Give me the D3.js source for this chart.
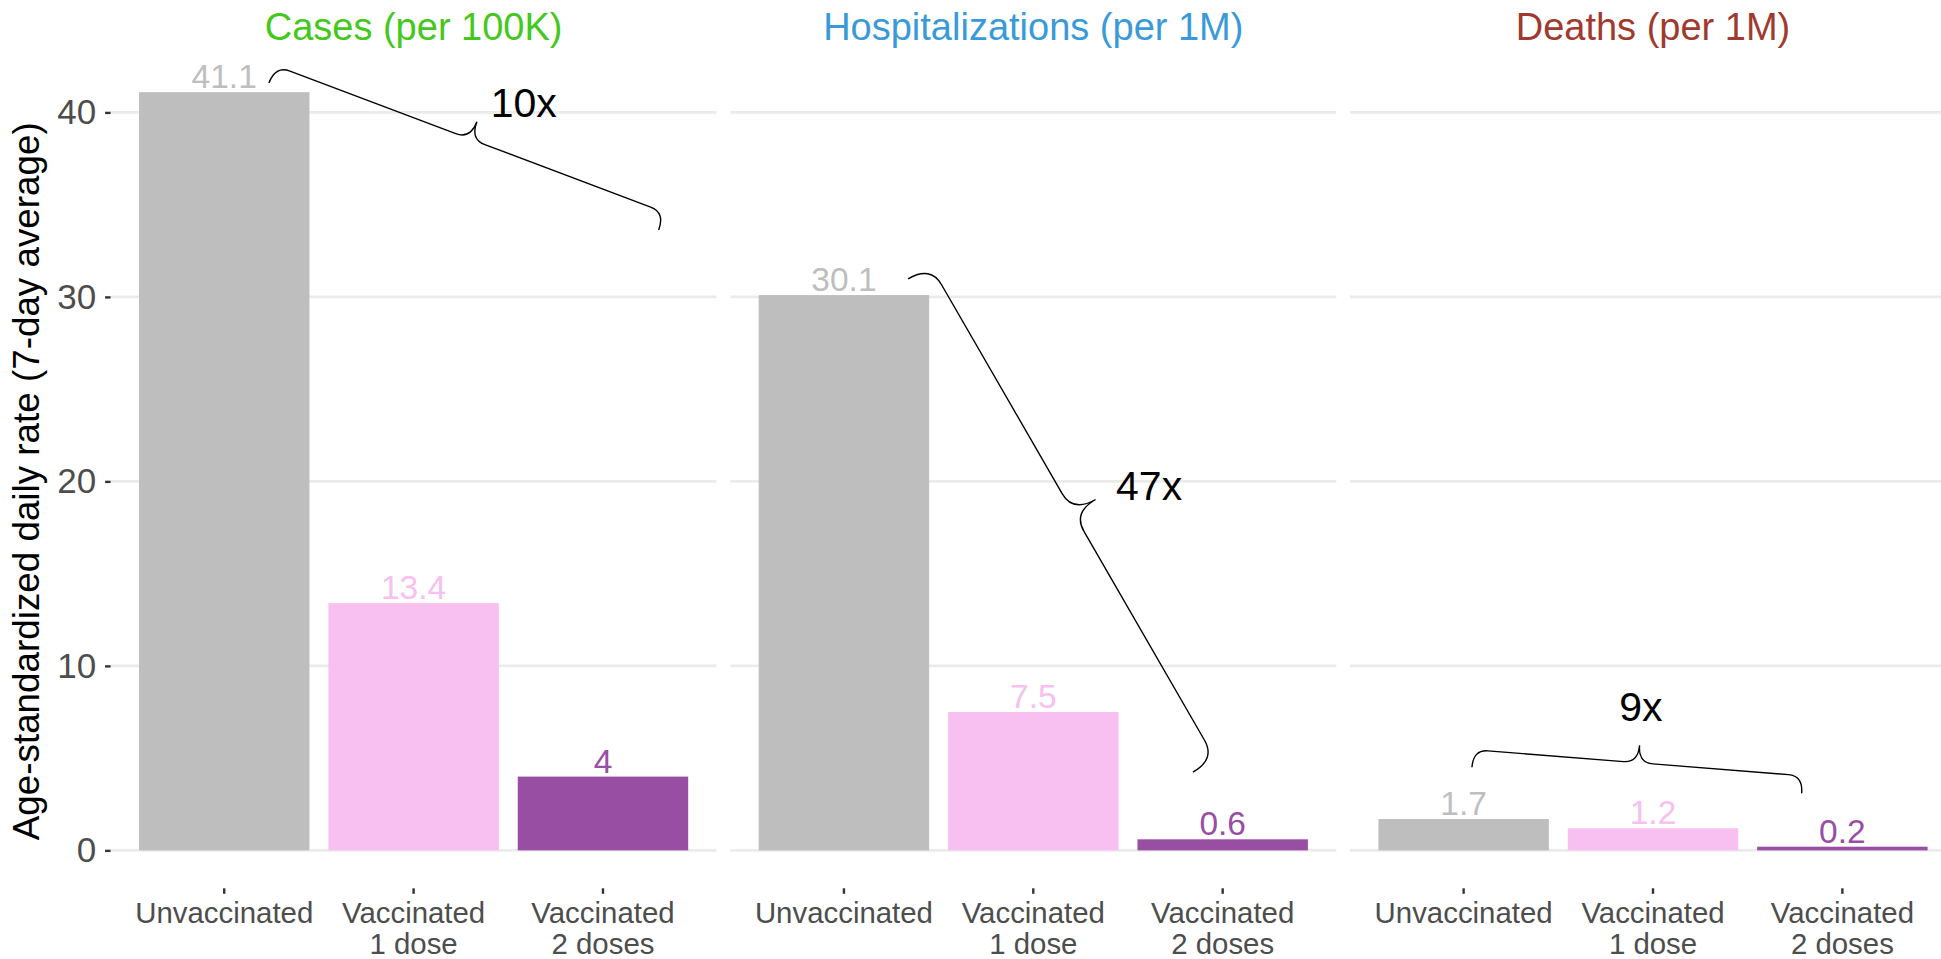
<!DOCTYPE html>
<html>
<head>
<meta charset="utf-8">
<script src="https://cdn.jsdelivr.net/npm/d3@7"></script>
<style>
  html, body { margin: 0; padding: 0; background: #fff; }
  svg { display: block; overflow: hidden; }
  text { font-family: "Liberation Sans", Arial, Helvetica, sans-serif; }
</style>
</head>
<body>
<svg id="chart" width="1941" height="959"></svg>
<script>
// ---------------- data ----------------
const categories = ["Unvaccinated", "Vaccinated 1 dose", "Vaccinated 2 doses"];
const categoryLines = [["Unvaccinated"], ["Vaccinated", "1 dose"], ["Vaccinated", "2 doses"]];
const panelTitles = ["Cases (per 100K)", "Hospitalizations (per 1M)", "Deaths (per 1M)"];
const casesValues = [41.1, 13.4, 4];
const hospitalizationValues = [30.1, 7.5, 0.6];
const deathValues = [1.7, 1.2, 0.2];
const yTicks = [0, 10, 20, 30, 40];
const yAxisTitle = "Age-standardized daily rate (7-day average)";
const ratioLabels = ["10x", "47x", "9x"];
// brace annotations in data units (x = category position 1..3, y = rate)
const braceStart = [[1.236, 41.6], [1.339, 30.98], [1.044, 4.51]];
const braceEnd = [[3.294, 33.63], [2.843, 4.24], [2.785, 3.10]];
const ratioLabelPos = [[2.407, 39.76], [2.437, 18.99], [1.936, 7.0]];

// ---------------- styles / layout ----------------
const panelValues = [casesValues, hospitalizationValues, deathValues];
const titleColors = ["#44C81C", "#3A9AD9", "#A03A2E"];
const barColors = ["#BEBEBE", "#F7C0F0", "#984EA3"];
const ratioAnchor = ["start", "start", "middle"];
const braceDepth = [37, 52, 35];

const W = 606, gap = 13.7, firstLeft = 110.6;
const panelTop = 54.2, panelBottom = 888.3;

const svg = d3.select("#chart");

const y = d3.scaleLinear().domain([-2.055, 43.155]).range([panelBottom, panelTop]);

function bracePath(A, B, h) {
  const dx = B[0] - A[0], dy = B[1] - A[1];
  const L = Math.hypot(dx, dy);
  const t = [dx / L, dy / L];
  const n = [t[1], -t[0]];
  const h1 = h * 0.5, w = h * 0.42;
  const p = (u, v) => [A[0] + t[0] * u + n[0] * v, A[1] + t[1] * u + n[1] * v].map(d => d.toFixed(2)).join(",");
  return `M${p(0,0)} Q${p(0,h1)} ${p(w,h1)} L${p(L/2-w,h1)} Q${p(L/2,h1)} ${p(L/2,h)} Q${p(L/2,h1)} ${p(L/2+w,h1)} L${p(L-w,h1)} Q${p(L,h1)} ${p(L,0)}`;
}

panelTitles.forEach((title, i) => {
  const left = firstLeft + i * (W + gap);
  const xBand = d3.scaleBand().domain(categories).range([left, left + W])
    .paddingInner(0.1).paddingOuter(0.15);
  const xLin = d3.scaleLinear().domain([0.4, 3.6]).range([left, left + W]);
  const g = svg.append("g");

  // gridlines
  g.selectAll("line.grid").data(yTicks).enter().append("line")
    .attr("x1", left).attr("x2", left + W)
    .attr("y1", d => y(d)).attr("y2", d => y(d))
    .attr("stroke", "#EBEBEB").attr("stroke-width", 2.6);

  // bars
  const vals = panelValues[i];
  g.selectAll("rect.bar").data(categories).enter().append("rect")
    .attr("x", d => xBand(d))
    .attr("width", xBand.bandwidth())
    .attr("y", (d, j) => y(vals[j]))
    .attr("height", (d, j) => y(0) - y(vals[j]))
    .attr("fill", (d, j) => barColors[j]);

  // value labels
  g.selectAll("text.val").data(categories).enter().append("text")
    .attr("x", d => xBand(d) + xBand.bandwidth() / 2)
    .attr("y", (d, j) => y(vals[j]) - 4)
    .attr("text-anchor", "middle")
    .attr("font-size", 33.5)
    .attr("fill", (d, j) => barColors[j])
    .text((d, j) => String(vals[j]));

  // panel title
  svg.append("text")
    .attr("x", left + W / 2).attr("y", 40)
    .attr("text-anchor", "middle")
    .attr("font-size", 38)
    .attr("fill", titleColors[i])
    .text(title);

  // x axis
  const xAxis = d3.axisBottom(xBand).tickSize(5.5).tickSizeOuter(0);
  const ax = svg.append("g").attr("transform", `translate(0,${panelBottom})`).call(xAxis);
  ax.select(".domain").remove();
  ax.selectAll(".tick line").attr("stroke", "#333333").attr("stroke-width", 2.4);
  ax.selectAll(".tick text").each(function(d) {
    const k = categories.indexOf(d);
    const txt = d3.select(this);
    txt.text(null).attr("y", null).attr("dy", null)
      .attr("fill", "#4D4D4D").attr("font-size", 29.4)
      .attr("font-family", "'Liberation Sans', Arial, sans-serif");
    categoryLines[k].forEach((line, li) => {
      txt.append("tspan").attr("x", 0).attr("y", 34.4 + li * 31).text(line);
    });
  });

  // brace annotation
  const A = [xLin(braceStart[i][0]), y(braceStart[i][1])];
  const B = [xLin(braceEnd[i][0]), y(braceEnd[i][1])];
  svg.append("path")
    .attr("d", bracePath(A, B, braceDepth[i]))
    .attr("fill", "none").attr("stroke", "#000").attr("stroke-width", 1.4);
  svg.append("text")
    .attr("x", xLin(ratioLabelPos[i][0])).attr("y", y(ratioLabelPos[i][1]))
    .attr("text-anchor", ratioAnchor[i])
    .attr("font-size", 41)
    .attr("fill", "#000")
    .text(ratioLabels[i]);

  // y axis on first panel only
  if (i === 0) {
    const yAxis = d3.axisLeft(y).tickValues(yTicks).tickSize(5.5).tickPadding(9);
    const ay = svg.append("g").attr("transform", `translate(${left},0)`).call(yAxis);
    ay.select(".domain").remove();
    ay.selectAll(".tick line").attr("stroke", "#333333").attr("stroke-width", 2.4);
    ay.selectAll(".tick text").attr("fill", "#4D4D4D").attr("font-size", 35)
      .attr("font-family", "'Liberation Sans', Arial, sans-serif");
  }
});

// y axis title
svg.append("text")
  .attr("transform", `translate(39,${(panelTop + panelBottom) / 2 + 10}) rotate(-90)`)
  .attr("text-anchor", "middle")
  .attr("font-size", 36.8)
  .attr("fill", "#000")
  .text(yAxisTitle);
</script>
</body>
</html>
